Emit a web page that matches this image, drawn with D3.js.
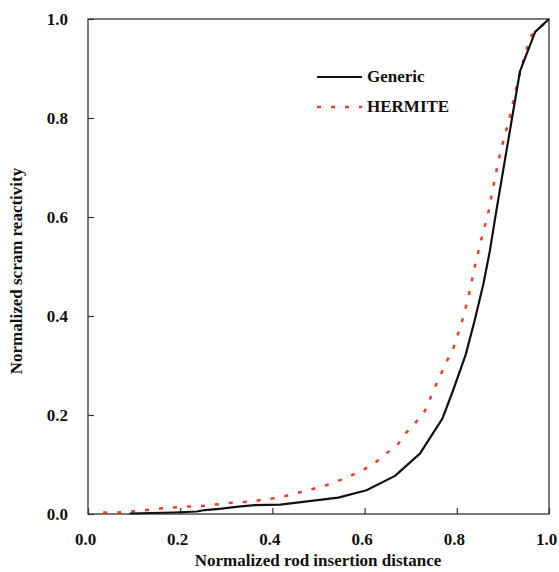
<!DOCTYPE html>
<html>
<head>
<meta charset="utf-8">
<script src="https://cdn.jsdelivr.net/npm/d3@7"></script>
<style>
  body { margin: 0; background: #fff; }
  svg text { font-family: "Liberation Serif", "DejaVu Serif", "Times New Roman", Times, serif !important; font-weight: bold; fill: #111; }
</style>
</head>
<body>
<svg id="chart" width="559" height="572"></svg>
<script>
// values
const genericX = [0.09, 0.185, 0.236, 0.254, 0.29, 0.326, 0.362, 0.417, 0.543, 0.604, 0.666, 0.720, 0.769, 0.792, 0.819, 0.839, 0.858, 0.872, 0.886, 0.908, 0.937, 0.970, 1.0];
const genericY = [0.001, 0.003, 0.005, 0.008, 0.011, 0.015, 0.018, 0.019, 0.033, 0.048, 0.077, 0.122, 0.193, 0.25, 0.321, 0.392, 0.466, 0.533, 0.614, 0.735, 0.894, 0.974, 1.0];

const hermiteX = [0.033, 0.064, 0.095, 0.126, 0.156, 0.185, 0.214, 0.247, 0.275, 0.306, 0.336, 0.366, 0.397, 0.426, 0.456, 0.485, 0.514, 0.543, 0.570, 0.597, 0.623, 0.648, 0.671, 0.689, 0.709, 0.730, 0.755, 0.778, 0.792, 0.811, 0.826, 0.838, 0.852, 0.868, 0.879, 0.891, 0.915, 0.933, 0.959, 1.0];
const hermiteY = [0.003, 0.003, 0.005, 0.008, 0.011, 0.013, 0.015, 0.016, 0.019, 0.022, 0.024, 0.027, 0.031, 0.036, 0.043, 0.050, 0.057, 0.067, 0.077, 0.089, 0.104, 0.123, 0.139, 0.163, 0.183, 0.207, 0.261, 0.308, 0.333, 0.388, 0.441, 0.496, 0.551, 0.607, 0.661, 0.717, 0.803, 0.877, 0.964, 1.0];

const xTicks = [0, 0.2, 0.4, 0.6, 0.8, 1.0];
const yTicks = [0, 0.2, 0.4, 0.6, 0.8, 1.0];
const seriesNames = ["Generic", "HERMITE"];

const serif = "'Liberation Serif', 'DejaVu Serif', 'Times New Roman', Times, serif";
const margin = {left: 88, top: 19, right: 10, bottom: 58};
const svg = d3.select("#chart");
const W = +svg.attr("width"), H = +svg.attr("height");

const x = d3.scaleLinear().domain([0, 1]).range([margin.left, W - margin.right]);
const y = d3.scaleLinear().domain([0, 1]).range([H - margin.bottom, margin.top]);

// frame
svg.append("rect")
  .attr("x", x(0)).attr("y", y(1))
  .attr("width", x(1) - x(0)).attr("height", y(0) - y(1))
  .attr("fill", "none").attr("stroke", "#333").attr("stroke-width", 1.3);

// axes, ticks inward
const xAxis = svg.append("g")
  .attr("transform", "translate(0," + y(0) + ")")
  .call(d3.axisBottom(x).tickValues(xTicks).tickSizeInner(-6).tickSizeOuter(0).tickFormat(d3.format(".1f")));
xAxis.attr("font-family", serif);
xAxis.select(".domain").remove();
xAxis.selectAll(".tick line").attr("stroke", "#333").attr("stroke-width", 1.2);
xAxis.selectAll(".tick text")
  .attr("y", 31).attr("dy", 0).attr("dx", -3)
  .attr("font-size", 17).attr("fill", "#111");

const yAxis = svg.append("g")
  .attr("transform", "translate(" + x(0) + ",0)")
  .call(d3.axisLeft(y).tickValues(yTicks).tickSizeInner(-6).tickSizeOuter(0).tickFormat(d3.format(".1f")));
yAxis.attr("font-family", serif);
yAxis.select(".domain").remove();
yAxis.selectAll(".tick line").attr("stroke", "#333").attr("stroke-width", 1.2);
yAxis.selectAll(".tick text")
  .attr("x", -20)
  .attr("font-size", 17).attr("fill", "#111");

// curves
const line = d3.line().x(d => x(d[0])).y(d => y(d[1]));
const hermite = d3.zip(hermiteX, hermiteY);
const generic = d3.zip(genericX, genericY);

svg.append("path").datum(hermite)
  .attr("d", line)
  .attr("fill", "none").attr("stroke", "#f23c22")
  .attr("stroke-width", 2.5).attr("stroke-dasharray", "4,10");

svg.append("path").datum(generic)
  .attr("d", line)
  .attr("fill", "none").attr("stroke", "#111")
  .attr("stroke-width", 2.2).attr("stroke-linejoin", "round");

// legend
const legend = svg.append("g").attr("font-family", serif);
legend.append("line")
  .attr("x1", 317).attr("x2", 362).attr("y1", 77).attr("y2", 77)
  .attr("stroke", "#111").attr("stroke-width", 2.2);
legend.append("text").attr("x", 367).attr("y", 82).attr("font-size", 17).text(seriesNames[0]);
legend.append("line")
  .attr("x1", 317).attr("x2", 362).attr("y1", 107).attr("y2", 107)
  .attr("stroke", "#f23c22").attr("stroke-width", 2.5).attr("stroke-dasharray", "4,10");
legend.append("text").attr("x", 367).attr("y", 112).attr("font-size", 17).text(seriesNames[1]);

// axis titles
svg.append("text")
  .attr("font-family", serif)
  .attr("x", 318).attr("y", 566)
  .attr("text-anchor", "middle").attr("font-size", 17)
  .text("Normalized rod insertion distance");

svg.append("text")
  .attr("font-family", serif)
  .attr("transform", "translate(22,271) rotate(-90)")
  .attr("text-anchor", "middle").attr("font-size", 17)
  .text("Normalized scram reactivity");
</script>
</body>
</html>
